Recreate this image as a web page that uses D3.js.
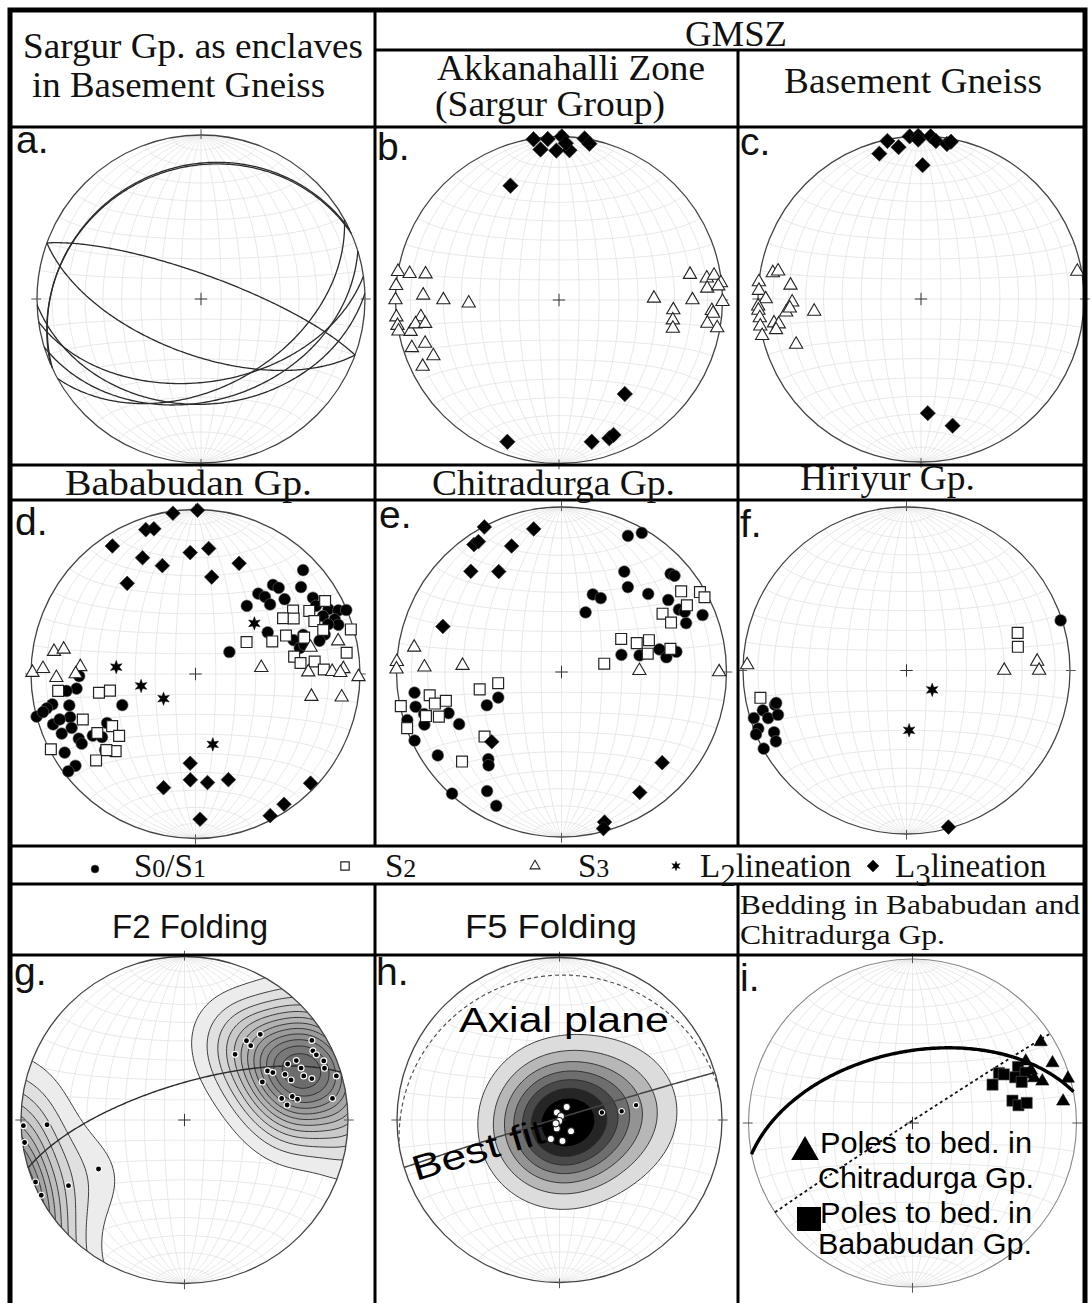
<!DOCTYPE html>
<html>
<head>
<meta charset="utf-8">
<script src="https://d3js.org/d3.v7.min.js"></script>
<style>
  body { margin: 0; background: #fff; }
  svg { display: block; }
</style>
</head>
<body>
<svg id="fig" width="1092" height="1303"></svg>
<script>
// ---------------------------------------------------------------------------
// Structural data. Lines/poles are [trend, plunge] in degrees (lower hemisphere);
// planes are [dip direction, dip] in degrees.
// ---------------------------------------------------------------------------

// a. Sargur Gp. enclaves: bedding/foliation planes
const aPlanes = [[20, 78], [200, 62], [335, 20], [336.5, 20.8], [172, 48], [163, 38], [151, 45], [178, 36]];

// b. Akkanahalli Zone (Sargur Group)
const bL3 = [[351, 0.5], [356, 1.5], [1, 0], [9, 0], [353, 8], [359, 9.5], [4, 9], [11, 3], [2.5, 4.5],
  [337, 25], [145, 30.5], [200, 8.5], [167, 12], [160, 11], [158, 12]];
const bS3 = [[280, 0], [280, 8], [281, 18], [275, 0], [270, 0], [272, 18], [270, 30], [268, 44], [264, 0],
  [263, 16], [261, 0], [259, 0], [258, 8], [260.5, 12], [260, 18], [252, 6], [252, 15], [246, 17], [244, 8],
  [89, 41.5], [79, 19.5], [90, 19.5], [95, 30.5], [100, 30], [104, 29], [81.6, 9.5], [81, 4.5], [84, 0.5],
  [85.5, 10], [85, 2.5], [90.6, 0], [94, 7], [95, 6], [99, 9], [100, 2]];

// c. Basement Gneiss
const cL3 = [[348, 1], [344, 8], [351.6, 6.5], [356, 0], [359, 0], [359, 2.5], [3.4, 0], [5.4, 3], [9.5, 4],
  [10.8, 2], [0.7, 19], [176.6, 30.5], [166, 21]];
const cS3 = [[280, 8.5], [281, 11.7], [276, 0], [276, 20.6], [273, 0.5], [270, 5.3], [267.5, 0], [266, 0],
  [268.6, 22], [264.4, 18], [266, 20.4], [263.4, 34.4], [263.3, 0.5], [260.4, 0], [257, 0], [260.7, 9.5],
  [260, 12.4], [258, 10], [250, 19.6], [80, 3]];

// d. Bababudan Gp.
const dS1 = [[46, 10], [50.5, 18], [41, 29], [44, 28], [38, 38], [42, 37], [47, 38], [50, 30], [37, 47], [57, 16],
  [60.5, 17], [64, 11], [66, 5.5], [67, 0.5], [65.6, 16], [68.6, 10], [71, 9], [69.5, 15], [60, 48], [70, 31],
  [71, 37], [73, 19], [75, 23], [76, 35], [75, 32], [57, 70],
  [269, 30], [263, 28], [262.5, 22], [258, 12], [257, 8], [255, 0], [256, 5], [256, 22], [247, 50], [251, 20.5],
  [250.5, 9], [246, 12], [246.5, 19], [241, 20], [238.5, 20], [239, 28], [241, 38.5], [230, 29], [239, 8],
  [232.6, 9], [232.6, 3], [236, 32], [251.5, 14]];
const dS2 = [[57, 30], [57.5, 37], [60.5, 32], [61, 22], [60.6, 10.5], [66, 22], [71, 19], [74, 2], [58, 60],
  [67, 48], [67, 40], [71.5, 31], [80, 39], [84, 36], [84, 28], [88, 23], [82, 8],
  [263, 17], [259, 40], [259, 46], [248, 27], [238, 40], [231, 40], [239, 31], [242.5, 1], [226, 33],
  [229.5, 29.5], [229, 21]];
const dS3 = [[77, 12], [77, 29], [84.5, 57], [89, 32], [89, 18], [88, 11], [89.5, 13], [91, 1], [101, 29], [99, 11],
  [279, 14], [280.6, 19.6], [270.5, 1], [272, 8], [273.6, 30.5], [268.5, 16.5], [270, 28]];
const dL2 = [[275, 50], [257.6, 62.3], [232.3, 70], [166.2, 53.7], [49.3, 51]];
const dL3 = [[352, 1.5], [0.7, 0.5], [341, 8], [344, 9], [327, 8], [335.5, 23.4], [343, 31.7], [357.5, 27],
  [6, 24.3], [21.5, 28.5], [9.5, 40], [323, 31.6], [183.4, 44.8], [195.7, 29], [182.8, 35.8], [173.7, 34],
  [162.7, 33.2], [178.2, 12.7], [152.2, 3], [145.8, 4.8], [133.5, 4]];

// e. Chitradurga Gp.
const eS1 = [[26, 9], [30, 3], [32, 29], [38, 35], [48, 30], [48, 12], [49.6, 11], [22, 48], [28, 48], [22, 58],
  [56, 23], [62, 20.5], [68, 8.6], [68.6, 20], [64, 18], [74, 59], [78, 50], [77, 39], [82, 36], [80, 30],
  [262, 11], [256.6, 10], [252.7, 2.4], [249, 12], [250, 28], [243, 31], [248, 56], [246, 49], [245, 2],
  [236, 10.5], [220, 31.6], [218, 29], [222, 1], [212, 16], [206, 10.7], [253, 14]];
const eS2 = [[56, 13.6], [60, 3.5], [62.4, 2.5], [62, 15], [60, 30], [65.7, 28], [61, 56], [69, 49.6], [70, 43],
  [78, 45.6], [78, 33], [79, 68.5],
  [258, 48], [260, 58], [260, 20], [258, 0.5], [256, 22], [256, 28.6], [252, 14.7], [250, 22], [250, 0.5],
  [230, 39], [228, 20]];
const eS3 = [[279.5, 10.4], [273.6, 0], [271, 0], [272, 18], [273.7, 39.7], [89, 51], [90, 5]];
const eL3 = [[332, 0.5], [349, 12.7], [325.5, 7], [327.5, 7], [338.4, 19], [318, 19], [328, 29], [291, 24],
  [225, 40], [132, 19], [147, 14], [164, 6], [165, 2]];

// f. Hiriyur Gp.
const fS1 = [[72, 1], [255.4, 18], [254.5, 9.7], [252.7, 2.5], [251, 11.5], [251, 18], [248.6, 3], [247, 0],
  [245, 11.6], [241.5, 10], [241.3, 0.5], [256, 19]];
const fS2 = [[71.3, 29], [78, 31], [259.4, 10]];
const fS3 = [[272, 2.8], [90, 40], [86, 21], [90, 20]];
const fL2 = [[127, 74], [177.5, 60]];
const fL3 = [[165, 1]];

// g. F2 folding: poles to S0/S1 and best-fit girdle
const gPoles = [[41.5, 30.7], [38, 38.4], [41.7, 39], [37.6, 48], [58, 9], [61.7, 11.8], [63.7, 11], [67, 8.3],
  [69.7, 9.6], [61.5, 29], [62, 23.6], [66, 23], [59.4, 40.7], [61.8, 38.6], [65.6, 33], [69.4, 31],
  [69.7, 23.3], [72, 19.2], [64, 46], [73.8, 3.7], [77.5, 39], [77.7, 33], [79.6, 30.4], [81.7, 36.7], [81.7, 9.4],
  [268, 1.6], [262, 1.4], [268, 17], [247.4, 1.5], [242.3, 1.2], [240.5, 19.6], [240.3, 39.3]];
const gGirdle = [343, 72];

// h. F5 folding: poles (open and filled), best-fit girdle, axial plane
const hOpen = [[29, 82.6], [341, 86], [22, 88], [198, 89.5], [198, 85.6], [134, 82], [204.5, 79.6], [172, 79.4], [228, 87.5]];
const hFilled = [[80, 68.4], [82, 58.3], [79, 50.3]];
const hBestFit = [343, 89];
const hAxialPlane = [350, 12];

// i. Bedding poles in Chitradurga and Bababudan Gp.
const iChitradurga = [[57.7, 8.3], [61.4, 22.4], [66.8, 7.9], [69.7, 22], [72.2, 18], [74, 1.6], [81.8, 8], [66, 22]];
const iBababudan = [[60, 39], [64.4, 45], [62, 28], [66, 32], [66, 25.5], [69.4, 29.6], [77.4, 37.6], [80.5, 34.8], [80, 30], [62, 37]];
const iGirdle = [349, 54];
const iTrace = [327, 89];

// ---------------------------------------------------------------------------
// Layout
// ---------------------------------------------------------------------------
const layout = {
  a: { cx: 201, cy: 299, R: 164, label: 'a.', lx: 16, ly: 153 },
  b: { cx: 559, cy: 300, R: 163.5, label: 'b.', lx: 377, ly: 160 },
  c: { cx: 921, cy: 299, R: 163, label: 'c.', lx: 740, ly: 155 },
  d: { cx: 195.5, cy: 674, R: 164.5, label: 'd.', lx: 15, ly: 535 },
  e: { cx: 561.5, cy: 672, R: 165, label: 'e.', lx: 379, ly: 528 },
  f: { cx: 906.5, cy: 670.5, R: 163.5, label: 'f.', lx: 740, ly: 537 },
  g: { cx: 184.5, cy: 1120, R: 163.5, label: 'g.', lx: 14, ly: 985 },
  h: { cx: 559.5, cy: 1120, R: 162.5, label: 'h.', lx: 376, ly: 985 },
  i: { cx: 912.5, cy: 1123, R: 164, label: 'i.', lx: 740, ly: 991 }
};

const svg = d3.select('#fig');
const SERIF = '"Liberation Serif", "Times New Roman", serif';
const SANS = '"Liberation Sans", Arial, Helvetica, sans-serif';

// ---------------------------------------------------------------------------
// Spherical geometry / equal-area (Schmidt) projection
// ---------------------------------------------------------------------------
const DEG = Math.PI / 180;
function vec(trend, plunge) {
  const t = trend * DEG, p = plunge * DEG;
  return [Math.cos(p) * Math.sin(t), Math.cos(p) * Math.cos(t), Math.sin(p)];
}
function project(v) {
  let [e, n, d] = v;
  if (d < -1e-9) { e = -e; n = -n; d = -d; }
  d = Math.max(0, d);
  const k = 1 / Math.sqrt(1 + d);
  return [e * k, n * k];
}
function greatCircle(dd, dip) {
  const s = vec(dd - 90, 0), D = vec(dd, dip);
  return d3.range(0, 180.5, 1).map(a => {
    const c = Math.cos(a * DEG), sn = Math.sin(a * DEG);
    return project([c * s[0] + sn * D[0], c * s[1] + sn * D[1], c * s[2] + sn * D[2]]);
  });
}
function smallCircleN(beta) {
  const b = beta * DEG;
  return d3.range(0, 180.5, 2).map(a => {
    const f = a * DEG;
    return project([Math.sin(b) * Math.cos(f), Math.cos(b), Math.sin(b) * Math.sin(f)]);
  });
}

// ---------------------------------------------------------------------------
// Symbols
// ---------------------------------------------------------------------------
const star6 = {
  draw(ctx, size) {
    const ro = Math.sqrt(size) * 0.62, ri = ro * 0.45;
    for (let k = 0; k < 12; k++) {
      const r = k % 2 ? ri : ro, a = k * Math.PI / 6 - Math.PI / 2;
      const x = r * Math.cos(a), y = r * Math.sin(a);
      if (k === 0) ctx.moveTo(x, y); else ctx.lineTo(x, y);
    }
    ctx.closePath();
  }
};
const styles = {
  S1: { type: d3.symbolCircle, size: 108, fill: '#000', stroke: '#666', sw: 0.6, rot: 0 },
  S2: { type: d3.symbolSquare, size: 118, fill: '#fff', stroke: '#222', sw: 1.2, rot: 0 },
  S3: { type: d3.symbolTriangle, size: 76, fill: '#fff', stroke: '#222', sw: 1.1, rot: 0 },
  L2: { type: star6, size: 120, fill: '#000', stroke: '#000', sw: 0.4, rot: 0 },
  L3: { type: d3.symbolSquare, size: 108, fill: '#000', stroke: '#333', sw: 0.6, rot: 45 }
};

// ---------------------------------------------------------------------------
// Net drawing
// ---------------------------------------------------------------------------
function stereonet(key) {
  const p = layout[key];
  const sx = d3.scaleLinear().domain([-1, 1]).range([p.cx - p.R, p.cx + p.R]);
  const sy = d3.scaleLinear().domain([-1, 1]).range([p.cy + p.R, p.cy - p.R]);
  const line = d3.line().x(d => sx(d[0])).y(d => sy(d[1]));
  const g = svg.append('g').attr('class', 'net-' + key);
  const grid = g.append('g').attr('fill', 'none').attr('stroke', '#e2e2e2').attr('stroke-width', 0.8);
  d3.range(10, 90, 10).forEach(k => {
    grid.append('path').attr('d', line(greatCircle(90, k)));
    grid.append('path').attr('d', line(greatCircle(270, k)));
  });
  grid.append('path').attr('d', line(greatCircle(90, 90)));
  d3.range(10, 180, 10).forEach(b => grid.append('path').attr('d', line(smallCircleN(b))));
  g.append('clipPath').attr('id', 'clip-' + key)
    .append('circle').attr('cx', p.cx).attr('cy', p.cy).attr('r', p.R);
  return { key, p, g, sx, sy, line };
}
function frame(net, stroke = '#444', width = 1.3) {
  const { p, g, sx, sy } = net;
  g.append('circle').attr('cx', p.cx).attr('cy', p.cy).attr('r', p.R)
    .attr('fill', 'none').attr('stroke', stroke).attr('stroke-width', width);
  const ticks = g.append('g').attr('stroke', '#555').attr('stroke-width', 1);
  [0, 90, 180, 270].forEach(az => {
    const u = Math.sin(az * DEG), v = Math.cos(az * DEG);
    ticks.append('line')
      .attr('x1', sx(u * 0.975)).attr('y1', sy(v * 0.975))
      .attr('x2', sx(u * 1.035)).attr('y2', sy(v * 1.035));
  });
  ticks.append('line').attr('x1', sx(-0.038)).attr('x2', sx(0.038)).attr('y1', sy(0)).attr('y2', sy(0)).attr('stroke', '#333');
  ticks.append('line').attr('y1', sy(-0.038)).attr('y2', sy(0.038)).attr('x1', sx(0)).attr('x2', sx(0)).attr('stroke', '#333');
}
function planes(net, list, stroke = '#333', width = 1.3, dash = null) {
  net.g.append('g').attr('fill', 'none').attr('stroke', stroke).attr('stroke-width', width)
    .attr('stroke-dasharray', dash)
    .selectAll('path').data(list).join('path')
    .attr('d', d => net.line(greatCircle(d[0], d[1])));
}
function points(net, list, st, over = {}) {
  const s = Object.assign({}, st, over);
  const sym = d3.symbol().type(s.type).size(s.size);
  net.g.append('g').selectAll('path').data(list).join('path')
    .attr('d', sym)
    .attr('transform', d => {
      const q = project(vec(d[0], d[1]));
      return `translate(${net.sx(q[0])},${net.sy(q[1])}) rotate(${s.rot})`;
    })
    .attr('fill', s.fill).attr('stroke', s.stroke).attr('stroke-width', s.sw);
}
function panelLabel(net) {
  const p = net.p;
  svg.append('text').attr('x', p.lx).attr('y', p.ly).text(p.label)
    .attr('font-family', SANS).attr('font-size', 39).attr('fill', '#111');
}
// Density of poles on the sphere (axial exponential kernel), contoured in projection space
function densityContours(net, list, kappa, nLevels, colorRange, topFrac) {
  const { p } = net;
  const n = 110, ext = 1.12, cell = 2 * ext / n;
  const vs = list.map(d => vec(d[0], d[1]));
  const values = new Float64Array(n * n);
  for (let j = 0; j < n; j++) {
    for (let i = 0; i < n; i++) {
      const x = -ext + (i + 0.5) * cell, y = ext - (j + 0.5) * cell;
      const r2 = x * x + y * y, r = Math.sqrt(r2);
      const d = Math.max(-1, 1 - r2);
      const h = Math.sqrt(Math.max(0, 1 - d * d));
      const v = r > 0 ? [h * x / r, h * y / r, d] : [0, 0, 1];
      let s = 0;
      for (const q of vs) {
        const c = Math.abs(v[0] * q[0] + v[1] * q[1] + v[2] * q[2]);
        s += Math.exp(kappa * (c - 1));
      }
      values[j * n + i] = s;
    }
  }
  const max = d3.max(values);
  const thresholds = d3.range(1, nLevels + 1).map(k => k / (nLevels + 1) * max * topFrac);
  const color = d3.scaleLinear().domain([0, nLevels - 1]).range(colorRange);
  const contours = d3.contours().size([n, n]).thresholds(thresholds)(values);
  const path = d3.geoPath(d3.geoIdentity().scale(cell * p.R).translate([p.cx - ext * p.R, p.cy - ext * p.R]));
  net.g.append('g').attr('clip-path', `url(#clip-${net.key})`)
    .selectAll('path').data(contours).join('path')
    .attr('d', path)
    .attr('fill', (d, k) => color(k))
    .attr('stroke', '#2a2a2a').attr('stroke-width', 0.9);
}

// ---------------------------------------------------------------------------
// Panels
// ---------------------------------------------------------------------------
// a
{
  const net = stereonet('a');
  frame(net);
  planes(net, aPlanes, '#2b2b2b', 1.3);
  panelLabel(net);
}
// b
{
  const net = stereonet('b');
  frame(net);
  points(net, bS3, styles.S3);
  points(net, bL3, styles.L3, { size: 120 });
  panelLabel(net);
}
// c
{
  const net = stereonet('c');
  frame(net);
  points(net, cS3, styles.S3);
  points(net, cL3, styles.L3, { size: 118 });
  panelLabel(net);
}
// d
{
  const net = stereonet('d');
  frame(net);
  points(net, dS1, styles.S1);
  points(net, dS2, styles.S2);
  points(net, dS3, styles.S3);
  points(net, dL2, styles.L2);
  points(net, dL3, styles.L3);
  panelLabel(net);
}
// e
{
  const net = stereonet('e');
  frame(net);
  points(net, eS1, styles.S1);
  points(net, eS2, styles.S2);
  points(net, eS3, styles.S3);
  points(net, eL3, styles.L3);
  panelLabel(net);
}
// f
{
  const net = stereonet('f');
  frame(net);
  points(net, fS1, styles.S1);
  points(net, fS2, styles.S2);
  points(net, fS3, styles.S3);
  points(net, fL2, styles.L2);
  points(net, fL3, styles.L3);
  panelLabel(net);
}
// g
{
  const net = stereonet('g');
  densityContours(net, gPoles, 13, 12, ['#ececec', '#6c6c6c'], 1);
  frame(net);
  planes(net, [gGirdle], '#2b2b2b', 1.4);
  points(net, gPoles, { type: d3.symbolCircle, size: 28, fill: '#000', stroke: '#fff', sw: 1.1, rot: 0 });
  panelLabel(net);
}
// h
{
  const net = stereonet('h');
  densityContours(net, hOpen.concat(hFilled), 8, 7, ['#dcdcdc', '#000000'], 0.97);
  frame(net);
  planes(net, [hAxialPlane], '#555', 1.2, '4,3');
  planes(net, [hBestFit], '#444', 1.5);
  points(net, hOpen, { type: d3.symbolCircle, size: 38, fill: '#fff', stroke: '#222', sw: 1.1, rot: 0 });
  points(net, hFilled, { type: d3.symbolCircle, size: 24, fill: '#000', stroke: '#fff', sw: 1.1, rot: 0 });
  panelLabel(net);
  svg.append('text').attr('x', 459).attr('y', 1032).text('Axial plane')
    .attr('font-family', SANS).attr('font-size', 35).attr('textLength', 210).attr('lengthAdjust', 'spacingAndGlyphs');
  svg.append('text').attr('transform', 'translate(416,1181) rotate(-16.6)').text('Best fit')
    .attr('font-family', SANS).attr('font-size', 35).attr('textLength', 137).attr('lengthAdjust', 'spacingAndGlyphs');
}
// i
{
  const net = stereonet('i');
  frame(net, '#888', 1.1);
  planes(net, [iGirdle], '#000', 3.4);
  planes(net, [iTrace], '#111', 1.8, '3,3');
  points(net, iBababudan, { type: d3.symbolSquare, size: 125, fill: '#000', stroke: '#555', sw: 0.6, rot: 0 });
  points(net, iChitradurga, { type: d3.symbolTriangle, size: 75, fill: '#000', stroke: '#000', sw: 0.5, rot: 0 });
  panelLabel(net);
  const leg = svg.append('g').attr('font-family', SANS).attr('font-size', 29).attr('fill', '#000');
  leg.append('path').attr('d', d3.symbol().type(d3.symbolTriangle).size(330)())
    .attr('transform', 'translate(805,1152)').attr('fill', '#000');
  leg.append('rect').attr('x', 797).attr('y', 1207).attr('width', 24).attr('height', 24).attr('fill', '#000');
  [['Poles to bed. in', 820, 1153, 212], ['Chitradurga Gp.', 818, 1188, 216],
   ['Poles to bed. in', 820, 1223, 212], ['Bababudan Gp.', 818, 1254, 214]].forEach(t => {
    leg.append('text').attr('x', t[1]).attr('y', t[2]).text(t[0])
      .attr('textLength', t[3]).attr('lengthAdjust', 'spacingAndGlyphs');
  });
}

// ---------------------------------------------------------------------------
// Table frame, headers and legend
// ---------------------------------------------------------------------------
const rules = svg.append('g').attr('stroke', '#000').attr('stroke-width', 3);
[[375, 50, 1085, 50], [10, 127, 1085, 127], [10, 465, 1085, 465], [10, 500, 1085, 500],
 [10, 846, 1085, 846], [10, 884, 1085, 884], [10, 955, 1085, 955],
 [375, 10, 375, 846], [738, 50, 738, 846], [375, 884, 375, 1310], [738, 884, 738, 1310]]
  .forEach(l => rules.append('line').attr('x1', l[0]).attr('y1', l[1]).attr('x2', l[2]).attr('y2', l[3]));
svg.append('rect').attr('x', 10).attr('y', 10).attr('width', 1075).attr('height', 1310)
  .attr('fill', 'none').attr('stroke', '#000').attr('stroke-width', 5);

const headers = [
  ['Sargur Gp. as enclaves', 23, 58, 36, 340, SERIF],
  ['in Basement Gneiss', 32, 97, 35, 293, SERIF],
  ['GMSZ', 685, 46, 36, 102, SERIF],
  ['Akkanahalli Zone', 437, 80, 36, 268, SERIF],
  ['(Sargur Group)', 435, 116, 36, 230, SERIF],
  ['Basement Gneiss', 784, 93, 36, 258, SERIF],
  ['Bababudan Gp.', 65, 495, 35, 247, SERIF],
  ['Chitradurga Gp.', 432, 495, 35, 243, SERIF],
  ['Hiriyur Gp.', 800, 490, 35, 175, SERIF],
  ['F2 Folding', 112, 938, 34, 156, SANS],
  ['F5 Folding', 465, 938, 34, 172, SANS],
  ['Bedding in Bababudan and', 740, 914, 27, 340, SERIF],
  ['Chitradurga Gp.', 740, 944, 27, 205, SERIF]
];
svg.append('g').attr('fill', '#111').selectAll('text').data(headers).join('text')
  .attr('x', d => d[1]).attr('y', d => d[2]).attr('font-size', d => d[3])
  .attr('font-family', d => d[5]).attr('textLength', d => d[4]).attr('lengthAdjust', 'spacingAndGlyphs')
  .text(d => d[0]);

// Legend row
const legendItems = [
  { key: 'S1', x: 95, parts: [['S', 0], ['0', 1], ['/', 0], ['S', 0], ['1', 1]], tx: 134 },
  { key: 'S2', x: 345, parts: [['S', 0], ['2', 1]], tx: 385 },
  { key: 'S3', x: 535, parts: [['S', 0], ['3', 1]], tx: 578 },
  { key: 'L2', x: 676, parts: [['L', 0], ['2', 2], ['lineation', 3]], tx: 700 },
  { key: 'L3', x: 873, parts: [['L', 0], ['3', 2], ['lineation', 3]], tx: 895 }
];
const legendSize = { S1: 50, S2: 70, S3: 42, L2: 60, L3: 72 };
const legend = svg.append('g');
legendItems.forEach(it => {
  const st = styles[it.key];
  legend.append('path').attr('d', d3.symbol().type(st.type).size(legendSize[it.key])())
    .attr('transform', `translate(${it.x},${it.key === 'S1' ? 869 : 866}) rotate(${st.rot})`)
    .attr('fill', st.fill).attr('stroke', st.stroke).attr('stroke-width', st.sw);
  const t = legend.append('text').attr('x', it.tx).attr('y', 877)
    .attr('font-family', SERIF).attr('font-size', 33).attr('fill', '#111');
  it.parts.forEach(pt => {
    const ts = t.append('tspan').text(pt[0]);
    if (pt[1] === 1) ts.attr('font-size', 26);
    if (pt[1] === 2) ts.attr('font-size', 31).attr('dy', 9);
    if (pt[1] === 3) ts.attr('dy', -9);
  });
});
</script>
</body>
</html>
